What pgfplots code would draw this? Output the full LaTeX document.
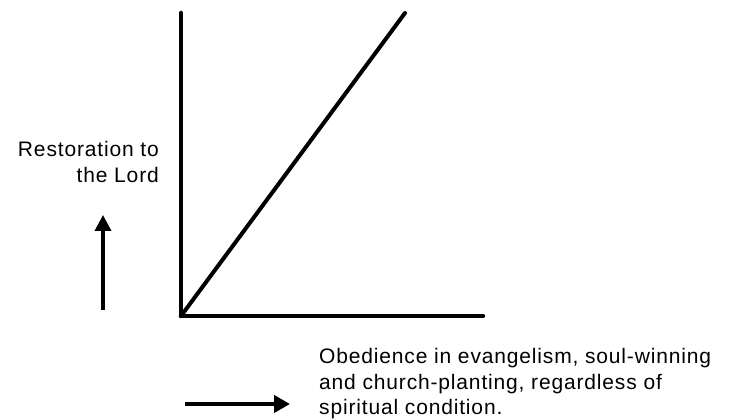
\documentclass[border=0pt]{standalone}
\usepackage{fontspec}
\setmainfont{Liberation Sans}[LetterSpace=4]
\usepackage{pgfplots}
\pgfplotsset{compat=1.18}
\usetikzlibrary{arrows.meta}

\begin{document}
\begin{tikzpicture}[x=1pt,y=1pt]
\path[use as bounding box] (0,0) rectangle (737,420);
\begin{axis}[
    at={(181pt,104pt)}, anchor=origin,
    scale only axis,
    width=302pt, height=303pt,
    xmin=0, xmax=302, ymin=0, ymax=303,
    axis x line=bottom, axis y line=left,
    axis line style={-, line width=4.5pt, line cap=round},
    ticks=none,
    clip=false
]
\addplot[black, line width=4pt, line cap=round] coordinates {(0,0) (224,303)};
\end{axis}
% axis captions
\node[anchor=base east, inner sep=0] at (159,263) {\fontsize{21}{26}\selectfont Restoration to};
\node[anchor=base east, inner sep=0] at (159,237) {\fontsize{21}{26}\selectfont the Lord};
\draw[line width=3.5pt, -{Triangle[width=16pt, length=16pt]}] (103,110) -- (103,205);
\draw[line width=4.5pt, -{Triangle[width=17pt, length=16pt]}] (185,16) -- (290,16);
\node[anchor=base west, inner sep=0] at (319,56) {\fontsize{21}{26}\selectfont Obedience in evangelism, soul-winning};
\node[anchor=base west, inner sep=0] at (319,30) {\fontsize{21}{26}\selectfont and church-planting, regardless of};
\node[anchor=base west, inner sep=0] at (319,5) {\fontsize{21}{26}\selectfont spiritual condition.};
\end{tikzpicture}
\end{document}
